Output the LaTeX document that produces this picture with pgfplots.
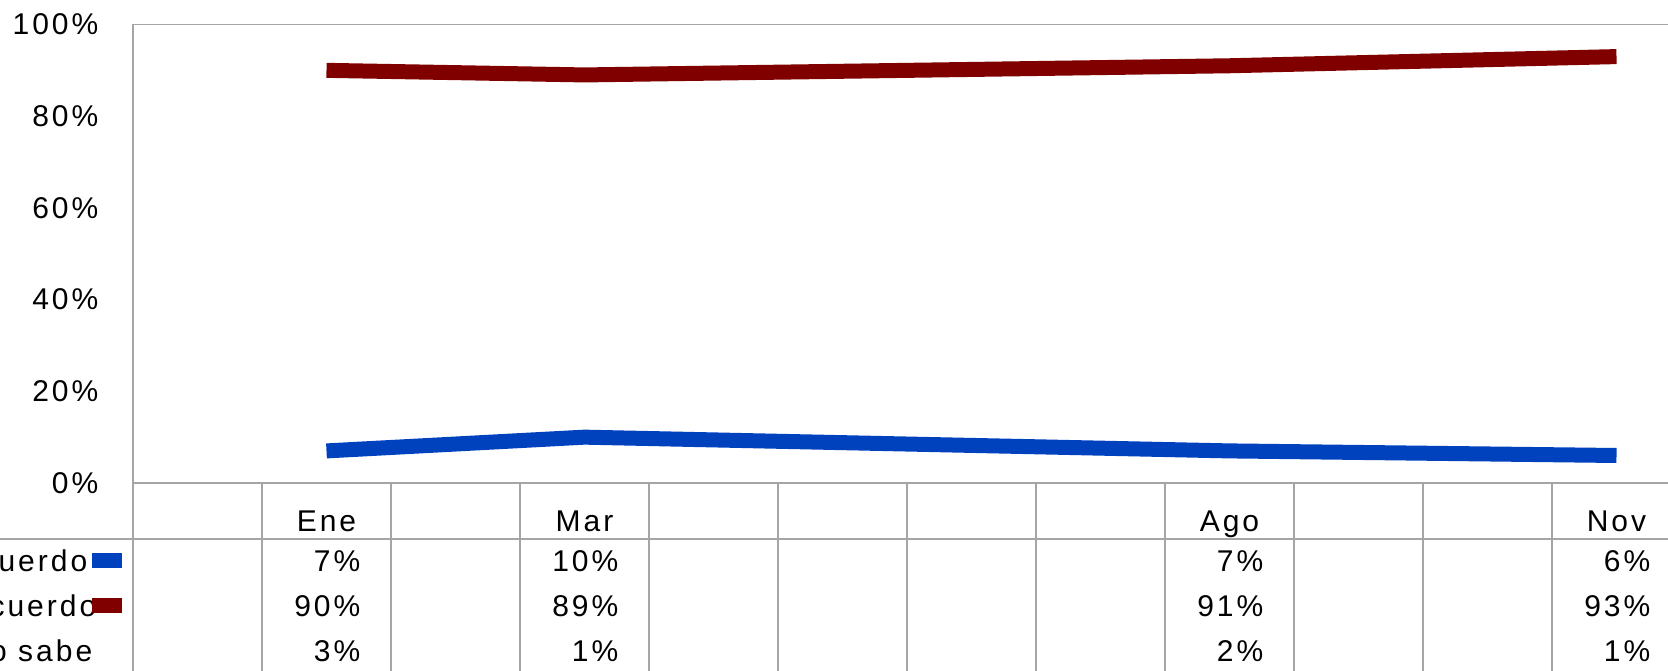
\documentclass[border=0pt]{standalone}
\usepackage{pgfplots}
\pgfplotsset{compat=1.18}
\usepackage{fontspec}
\setmainfont{Liberation Sans}[LetterSpace=10]
\definecolor{serieazul}{RGB}{0,65,190}
\definecolor{serierojo}{RGB}{128,0,0}
\definecolor{rejilla}{RGB}{165,165,165}

\begin{document}
\begin{tikzpicture}
\begin{axis}[
at={(0,0)}, anchor=south west,
width=464.4pt, height=137.55pt, scale only axis,
xmin=-0.5, xmax=11.5, ymin=0, ymax=100,
xtick={0,...,11}, xticklabels={,Ene,,Mar,,,,,Ago,,,Nov},
ytick={0,20,...,100}, yticklabels={0\%,20\%,40\%,60\%,80\%,100\%},
major tick length=0pt,
axis line style={rejilla, line width=0.5pt},
tick label style={font=\fontsize{9}{10}\selectfont},
yticklabel style={anchor=east, inner sep=0pt, xshift=-10.2pt},
xticklabel style={anchor=base, inner sep=0pt, yshift=-14.4pt},
clip=false]
\addplot[serieazul, line width=4.5pt, line cap=butt] coordinates {(1,7) (3,10) (8,7) (11,6)};
\addplot[serierojo, line width=4.5pt, line cap=butt] coordinates {(1,90) (3,89) (8,91) (11,93)};
\end{axis}

% tabla de datos
\foreach \k in {0,...,12}
  \draw[rejilla, line width=0.5pt] (\k*38.7pt,0) -- (\k*38.7pt,-60pt);
\draw[rejilla, line width=0.5pt] (-40pt,-16.8pt) -- (470pt,-16.8pt);

\begin{scope}[every node/.style={anchor=base east, inner sep=0pt, font=\fontsize{9}{10}\selectfont}]
\foreach \i/\a/\b/\c in {1/7/90/3, 3/10/89/1, 8/7/91/2, 11/6/93/1} {
  \node at ({(\i+0.5)*38.7pt+10.35pt},-26.6pt) {\a\%};
  \node at ({(\i+0.5)*38.7pt+10.35pt},-40.1pt) {\b\%};
  \node at ({(\i+0.5)*38.7pt+10.35pt},-53.6pt) {\c\%};
}
\node at (-13.5pt,-26.6pt) {De acuerdo};
\node at (-10.8pt,-40.1pt) {En desacuerdo};
\node at (-12pt,-53.6pt) {No sabe};
\end{scope}
\fill[serieazul] (-12.3pt,-20.9pt) rectangle (-3.3pt,-25.6pt);
\fill[serierojo] (-12.3pt,-34.4pt) rectangle (-3.3pt,-39.1pt);

% el original esta cortado a la izquierda, derecha y abajo
\pgfresetboundingbox
\useasboundingbox (-39.9pt,-56.1pt) rectangle (460.5pt,144.9pt);
\end{tikzpicture}
\end{document}
